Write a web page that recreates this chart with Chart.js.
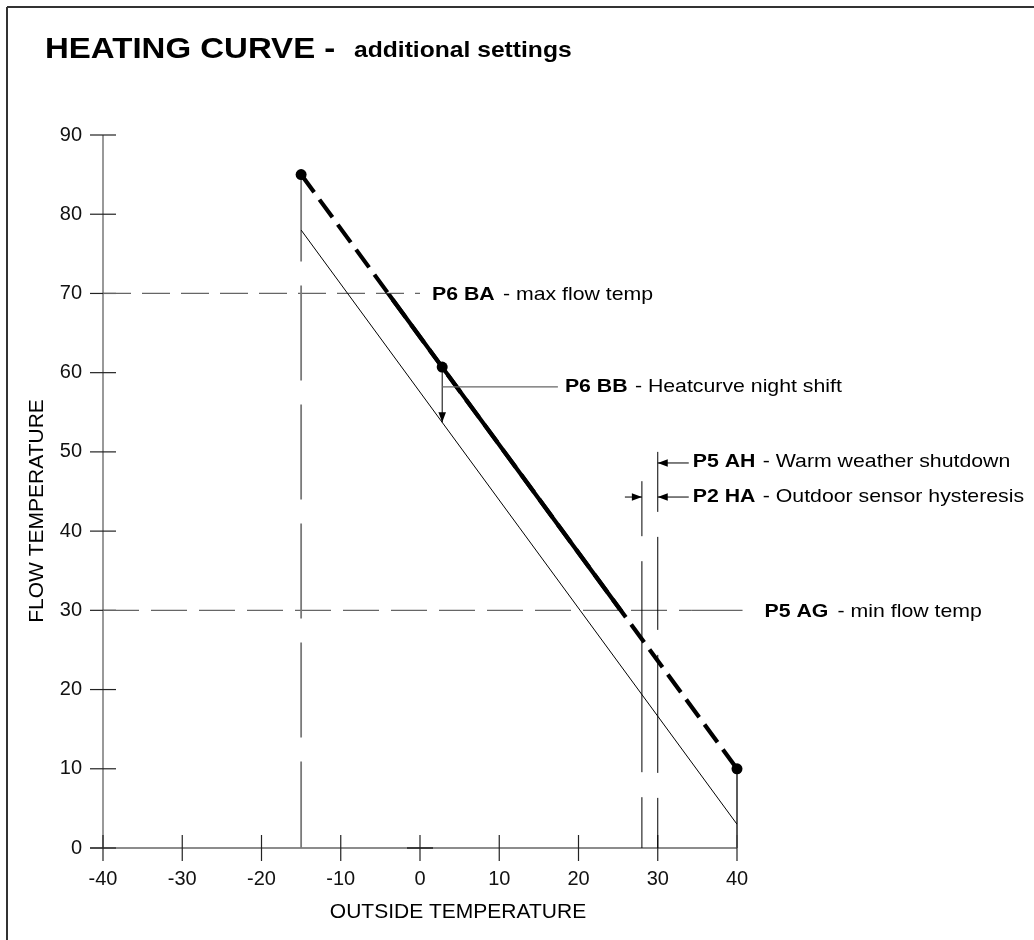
<!DOCTYPE html>
<html><head><meta charset="utf-8">
<script src="https://cdn.jsdelivr.net/npm/chart.js@4.4.1/dist/chart.umd.min.js"></script>
<style>html,body{margin:0;padding:0;background:#fff;}#wrap{width:1034px;height:940px;}</style>
</head><body><div id="wrap"><canvas id="c" width="1034" height="940"></canvas></div>
<script>
// ---- data ----
const X_TICKS = [-40, -30, -20, -10, 0, 10, 20, 30, 40];
const Y_TICKS = [0, 10, 20, 30, 40, 50, 60, 70, 80, 90];
const curveX = [-15, 2.8, 40];          // heating curve (outside temp)
const curveY = [85, 60.7, 10];          // heating curve (flow temp)
const nightX = [-15, 40];               // shifted (night) curve
const nightY = [78, 3];
const maxFlowTemp = 70;                 // P6 BA
const minFlowTemp = 30;                 // P5 AG
const shutdownTemp = 30;                // P5 AH
const hysteresisTemp = 28;              // P2 HA
const shutdownLineTop = 50;
const hysteresisLineTop = 46.3;
const maxLeaderEnd = 0;
const minLeaderDashEnd = 34.3;
const minLeaderEnd = 40.7;
const nightLeaderY = 58.2;
const nightLeaderEnd = 17.4;
const ahArrowY = 48.6;
const haArrowY = 44.3;
const labels = {
  ba: ['P6 BA', '- max flow temp'],
  bb: ['P6 BB', '- Heatcurve night shift'],
  ah: ['P5 AH', '- Warm weather shutdown'],
  ha: ['P2 HA', '- Outdoor sensor hysteresis'],
  ag: ['P5 AG', '- min flow temp']
};

const FONT = "Arial, 'Liberation Sans', Helvetica, sans-serif";
const pts = (xs, ys) => xs.map((x, i) => ({x: x, y: ys[i]}));

function txt(ctx, s, x, y, font, sx, align) {
  ctx.save();
  ctx.font = font;
  ctx.fillStyle = '#000';
  ctx.translate(x, y);
  ctx.scale(sx || 1, 1);
  ctx.textAlign = align || 'left';
  ctx.textBaseline = 'alphabetic';
  ctx.fillText(s, 0, 0);
  ctx.restore();
}
function arrow(ctx, x1, y1, x2, y2, color) {
  const len = 10, hw = 3.8;
  const a = Math.atan2(y2 - y1, x2 - x1);
  ctx.save();
  ctx.strokeStyle = color || '#000';
  ctx.fillStyle = color || '#000';
  ctx.lineWidth = 1;
  ctx.beginPath(); ctx.moveTo(x1, y1); ctx.lineTo(x2, y2); ctx.stroke();
  ctx.beginPath();
  ctx.moveTo(x2, y2);
  ctx.lineTo(x2 - len * Math.cos(a) + hw * Math.sin(a), y2 - len * Math.sin(a) - hw * Math.cos(a));
  ctx.lineTo(x2 - len * Math.cos(a) - hw * Math.sin(a), y2 - len * Math.sin(a) + hw * Math.cos(a));
  ctx.closePath(); ctx.fill();
  ctx.restore();
}
function line(ctx, x1, y1, x2, y2, color, w) {
  ctx.save(); ctx.strokeStyle = color; ctx.lineWidth = w;
  ctx.beginPath(); ctx.moveTo(x1, y1); ctx.lineTo(x2, y2); ctx.stroke(); ctx.restore();
}

const decor = {
  id: 'decor',
  beforeDraw(chart) {
    const c = chart.ctx;
    c.save();
    c.fillStyle = '#fff'; c.fillRect(0, 0, chart.width, chart.height);
    line(c, 7, 7, 1034, 7, '#333', 2);
    line(c, 7, 7, 7, 940, '#333', 2);
    txt(c, 'HEATING CURVE -', 45, 58, 'bold 30px ' + FONT, 1.1);
    txt(c, 'additional settings', 354, 57, 'bold 22px ' + FONT, 1.12);
    txt(c, 'OUTSIDE TEMPERATURE', 458, 918, '21px ' + FONT, 1, 'center');
    c.save();
    c.translate(43, 511); c.rotate(-Math.PI / 2);
    txt(c, 'FLOW TEMPERATURE', 0, 0, '21px ' + FONT, 1, 'center');
    c.restore();
    c.restore();
  },
  beforeDatasetsDraw(chart) {
    const c = chart.ctx, xs = chart.scales.x, ys = chart.scales.y;
    const x0 = xs.getPixelForValue(-40), x1 = xs.getPixelForValue(40);
    const yb = ys.getPixelForValue(0), yt = ys.getPixelForValue(90);
    line(c, x0 - 13, yb, x1, yb, '#666', 1.5);
    line(c, x0, yt, x0, yb, '#777', 1.5);
    X_TICKS.forEach(v => { const p = xs.getPixelForValue(v); line(c, p, yb - 13, p, yb + 13, '#222', 1.2); });
    Y_TICKS.forEach(v => { const p = ys.getPixelForValue(v); line(c, x0 - 13, p, x0 + 13, p, '#222', 1.2); });
    const z = xs.getPixelForValue(0);
    line(c, z - 13, yb, z + 13, yb, '#222', 1.5);
  },
  beforeDatasetDraw(chart, args) {
    const ds = chart.data.datasets[args.index];
    if (ds.band) {
      const ys = chart.scales.y, c = chart.ctx;
      c.save();
      c.beginPath();
      const top = ys.getPixelForValue(maxFlowTemp), bot = ys.getPixelForValue(minFlowTemp);
      c.rect(0, top, chart.width, bot - top);
      c.clip();
    }
  },
  afterDatasetDraw(chart, args) {
    if (chart.data.datasets[args.index].band) chart.ctx.restore();
  },
  afterDatasetsDraw(chart) {
    const c = chart.ctx, xs = chart.scales.x, ys = chart.scales.y;
    const X = v => xs.getPixelForValue(v), Y = v => ys.getPixelForValue(v);
    const bold = 'bold 19px ' + FONT, reg = '19px ' + FONT, sx = 1.12, cap = 6.8;
    // P6 BA
    txt(c, labels.ba[0], X(maxLeaderEnd) + 12, Y(maxFlowTemp) + cap, bold, sx);
    txt(c, labels.ba[1], X(maxLeaderEnd) + 83, Y(maxFlowTemp) + cap, reg, sx);
    // P6 BB: night shift arrow and leader
    const mx = X(curveX[1]);
    const nyAt = nightY[0] + (nightY[1] - nightY[0]) * (curveX[1] - nightX[0]) / (nightX[1] - nightX[0]);
    arrow(c, mx, Y(curveY[1]), mx, Y(nyAt), '#000');
    line(c, mx, Y(nightLeaderY), X(nightLeaderEnd), Y(nightLeaderY), '#666', 1.2);
    txt(c, labels.bb[0], X(nightLeaderEnd) + 7, Y(nightLeaderY) + cap - 1.5, bold, sx);
    txt(c, labels.bb[1], X(nightLeaderEnd) + 77, Y(nightLeaderY) + cap - 1.5, reg, sx);
    // P5 AH
    const tail = X(shutdownTemp) + 31;
    arrow(c, tail, Y(ahArrowY), X(shutdownTemp), Y(ahArrowY), '#000');
    txt(c, labels.ah[0], tail + 4, Y(ahArrowY) + cap - 3, bold, sx);
    txt(c, labels.ah[1], tail + 74, Y(ahArrowY) + cap - 3, reg, sx);
    // P2 HA
    arrow(c, X(hysteresisTemp) - 17, Y(haArrowY), X(hysteresisTemp), Y(haArrowY), '#000');
    arrow(c, tail, Y(haArrowY), X(shutdownTemp), Y(haArrowY), '#000');
    txt(c, labels.ha[0], tail + 4, Y(haArrowY) + cap - 2, bold, sx);
    txt(c, labels.ha[1], tail + 74, Y(haArrowY) + cap - 2, reg, sx);
    // P5 AG
    txt(c, labels.ag[0], X(minLeaderEnd) + 22, Y(minFlowTemp) + cap, bold, sx);
    txt(c, labels.ag[1], X(minLeaderEnd) + 95, Y(minFlowTemp) + cap, reg, sx);
  }
};

const base = {showLine: true, pointRadius: 0, borderWidth: 1, tension: 0, fill: false};
const chart = new Chart(document.getElementById('c'), {
  type: 'scatter',
  data: {
    datasets: [
      Object.assign({}, base, {label: 'curve', data: pts(curveX, curveY), borderColor: '#000', borderWidth: 4.2,
        borderDash: [22, 9], pointRadius: 5.5, pointBackgroundColor: '#000', pointBorderWidth: 0, clip: false}),
      Object.assign({}, base, {label: 'curve-band', data: pts(curveX, curveY), borderColor: '#000', borderWidth: 4.2, band: true}),
      Object.assign({}, base, {label: 'night', data: pts(nightX, nightY), borderColor: '#000', borderWidth: 1}),
      Object.assign({}, base, {label: 'v-start', data: [{x: curveX[0], y: curveY[0]}, {x: curveX[0], y: 0}],
        borderColor: '#7a7a7a', borderWidth: 1.8, borderDash: [95, 24], borderDashOffset: 8}),
      Object.assign({}, base, {label: 'v-end', data: [{x: curveX[2], y: curveY[2]}, {x: curveX[2], y: 0}],
        borderColor: '#444', borderWidth: 1, clip: false}),
      Object.assign({}, base, {label: 'v-hyst', data: [{x: hysteresisTemp, y: hysteresisLineTop}, {x: hysteresisTemp, y: 0}],
        borderColor: '#000', borderWidth: 1, borderDash: [55, 25, 211, 25, 100]}),
      Object.assign({}, base, {label: 'v-shut', data: [{x: shutdownTemp, y: shutdownLineTop}, {x: shutdownTemp, y: 0}],
        borderColor: '#000', borderWidth: 1, borderDash: [60, 25, 93, 25, 118, 25, 62]}),
      Object.assign({}, base, {label: 'h-max', data: [{x: -40, y: maxFlowTemp}, {x: maxLeaderEnd, y: maxFlowTemp}],
        borderColor: '#666', borderWidth: 1.3, borderDash: [28, 11]}),
      Object.assign({}, base, {label: 'h-min', data: [{x: -40, y: minFlowTemp}, {x: minLeaderDashEnd, y: minFlowTemp}],
        borderColor: '#666', borderWidth: 1.3, borderDash: [36, 12]}),
      Object.assign({}, base, {label: 'h-min-lead', data: [{x: minLeaderDashEnd, y: minFlowTemp}, {x: minLeaderEnd, y: minFlowTemp}],
        borderColor: '#666', borderWidth: 1.3, clip: false})
    ]
  },
  options: {
    responsive: false, animation: false, devicePixelRatio: 1,
    layout: {padding: {left: 0, top: 135, right: 297, bottom: 0}},
    plugins: {legend: {display: false}, tooltip: {enabled: false}, title: {display: false}},
    scales: {
      x: {type: 'linear', min: -40, max: 40, offset: false,
        afterBuildTicks: s => { s.ticks = X_TICKS.map(v => ({value: v})); },
        afterFit: s => { s.height = 92; },
        ticks: {font: {family: FONT, size: 20}, color: '#111', padding: 6, maxRotation: 0, autoSkip: false},
        grid: {display: true, drawOnChartArea: false, drawTicks: true, tickLength: 13, color: 'rgba(0,0,0,0)'},
        border: {display: false}},
      y: {type: 'linear', min: 0, max: 90,
        afterBuildTicks: s => { s.ticks = Y_TICKS.map(v => ({value: v})); },
        afterFit: s => { s.width = 103; },
        ticks: {font: {family: FONT, size: 20}, color: '#111', padding: 8, autoSkip: false},
        grid: {display: true, drawOnChartArea: false, drawTicks: true, tickLength: 13, color: 'rgba(0,0,0,0)'},
        border: {display: false}}
    }
  },
  plugins: [decor]
});
</script></body></html>
